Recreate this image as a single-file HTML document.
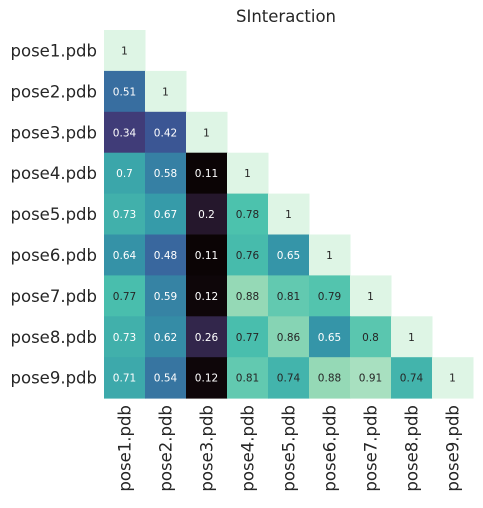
<!DOCTYPE html>
<html><head><meta charset="utf-8"><style>
html,body{margin:0;padding:0;background:#fff;}
svg text{font-family:"DejaVu Sans","Liberation Sans",sans-serif;}
</style></head><body>
<svg id="chart" width="483" height="503">
<text x="286" y="22" font-size="16.5" text-anchor="middle" fill="#262626">SInteraction</text>
<g id="cells"></g><g id="ylabels"></g><g id="xlabels"></g>
</svg>
<script>
const labels = ["pose1.pdb","pose2.pdb","pose3.pdb","pose4.pdb","pose5.pdb","pose6.pdb","pose7.pdb","pose8.pdb","pose9.pdb"];
const row1 = [1];
const row2 = [0.51,1];
const row3 = [0.34,0.42,1];
const row4 = [0.7,0.58,0.11,1];
const row5 = [0.73,0.67,0.2,0.78,1];
const row6 = [0.64,0.48,0.11,0.76,0.65,1];
const row7 = [0.77,0.59,0.12,0.88,0.81,0.79,1];
const row8 = [0.73,0.62,0.26,0.77,0.86,0.65,0.8,1];
const row9 = [0.71,0.54,0.12,0.81,0.74,0.88,0.91,0.74,1];
const rows = [row1,row2,row3,row4,row5,row6,row7,row8,row9];

const x0=104, y0=30, cw=41, ch=40.9;
const all = rows.flat();
const vmin = Math.min(...all), vmax = Math.max(...all);
const stops = [[0,"#0b0405"],[0.125,"#2b1c35"],[0.25,"#403a75"],[0.375,"#3a5e9c"],[0.5,"#3679a2"],[0.625,"#359aa9"],[0.75,"#4ac1ad"],[0.875,"#9bdbb7"],[1,"#def5e5"]];
function hex(h){return [1,3,5].map(i=>parseInt(h.substr(i,2),16));}
function cmap(t){
  t=Math.max(0,Math.min(1,t));
  for(let i=1;i<stops.length;i++){
    if(t<=stops[i][0]){
      const a=hex(stops[i-1][1]), b=hex(stops[i][1]);
      const f=(t-stops[i-1][0])/(stops[i][0]-stops[i-1][0]);
      return a.map((v,k)=>Math.round(v+(b[k]-v)*f));
    }
  }
  return hex(stops[stops.length-1][1]);
}
function lum(c){const l=c.map(v=>{v/=255;return v<=0.03928?v/12.92:Math.pow((v+0.055)/1.055,2.4);});return 0.2126*l[0]+0.7152*l[1]+0.0722*l[2];}
const NS="http://www.w3.org/2000/svg";
const cells=document.getElementById('cells');
rows.forEach((r,i)=>{
  r.forEach((v,j)=>{
    const t0=(v-vmin)/(vmax-vmin);
    const c=cmap(t0);
    const rect=document.createElementNS(NS,'rect');
    rect.setAttribute('x',x0+j*cw);rect.setAttribute('y',y0+i*ch);
    rect.setAttribute('width',cw+0.5);rect.setAttribute('height',ch+0.5);
    rect.setAttribute('fill',`rgb(${c.join(',')})`);
    
    
    cells.appendChild(rect);
    const t=document.createElementNS(NS,'text');
    t.setAttribute('x',x0+j*cw+cw/2);t.setAttribute('y',y0+i*ch+ch/2+4);
    t.setAttribute('font-size','10.5');t.setAttribute('text-anchor','middle');
    t.setAttribute('fill',t0>0.705?'#262626':'#ffffff');
    t.textContent=String(v);
    
    
    cells.appendChild(t);
  });
});
const yl=document.getElementById('ylabels'), xl=document.getElementById('xlabels');
labels.forEach((s,i)=>{
  const t=document.createElementNS(NS,'text');
  t.setAttribute('x',x0-7);t.setAttribute('y',y0+i*ch+ch/2+6);
  t.setAttribute('font-size','16.5');t.setAttribute('text-anchor','end');t.setAttribute('fill','#262626');
  t.textContent=s;
  
  
  yl.appendChild(t);
  const u=document.createElementNS(NS,'text');
  const cx=x0+i*cw+cw/2+6, cy=y0+9*ch+7;
  u.setAttribute('x',cx);u.setAttribute('y',cy);
  u.setAttribute('font-size','16.5');u.setAttribute('text-anchor','end');u.setAttribute('fill','#262626');
  u.setAttribute('transform',`rotate(-90 ${cx} ${cy})`);
  u.textContent=s;
  
  
  xl.appendChild(u);
});
</script>
</body></html>
